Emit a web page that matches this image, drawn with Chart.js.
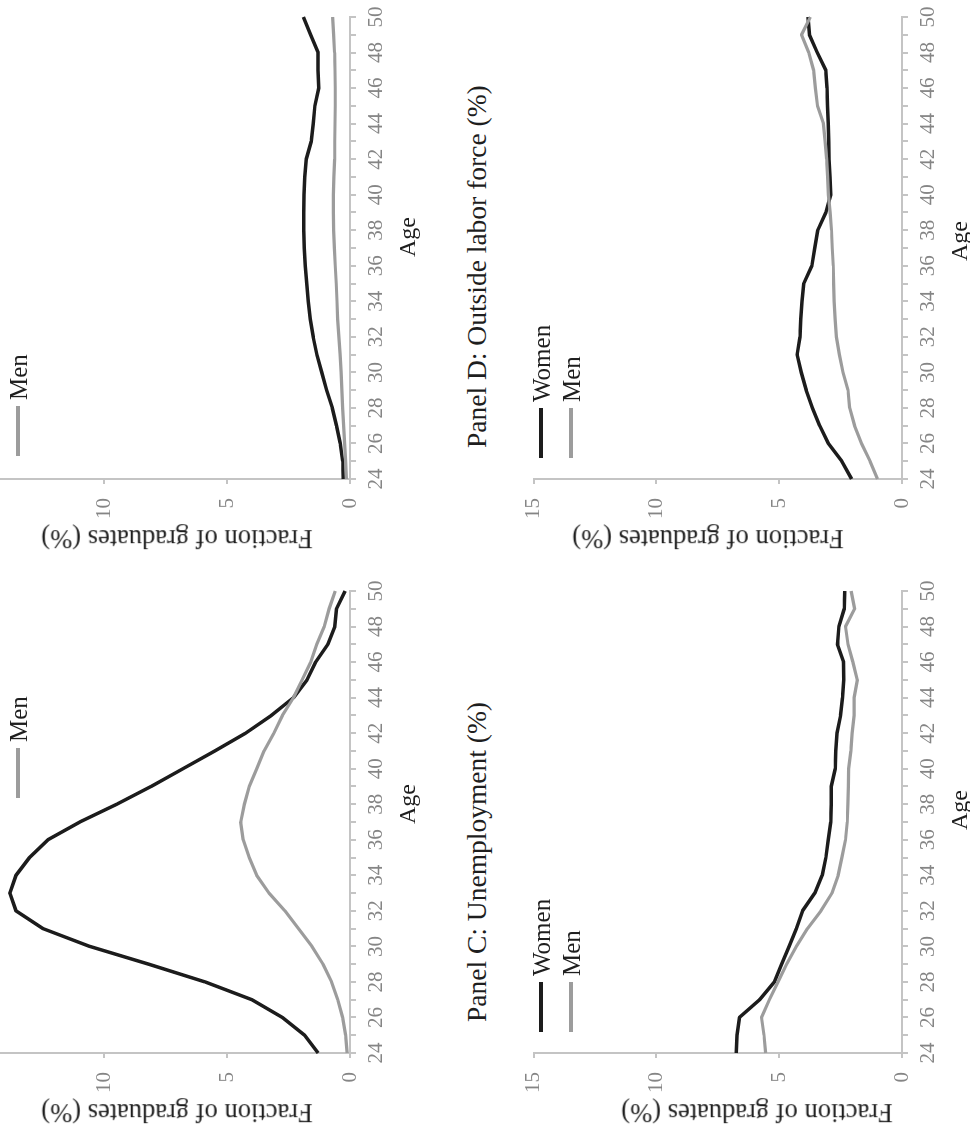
<!DOCTYPE html>
<html><head><meta charset="utf-8">
<script src="https://cdn.jsdelivr.net/npm/chart.js@4.4.0/dist/chart.umd.min.js"></script>
<style>
html,body{margin:0;padding:0;width:970px;height:1134px;overflow:hidden;background:#fff;}
#page{position:absolute;left:0;top:0;width:1134px;height:970px;transform-origin:0 0;transform:translate(0px,1134px) rotate(-90deg);font-family:'Liberation Serif','Times New Roman',serif;color:#1e1e1e;}
.cv{position:absolute;}
.txt{position:absolute;white-space:nowrap;line-height:1;}
.legline{position:absolute;height:4px;}
</style></head><body><div id="page"></div>
<script>
// ---------- data ----------
const ages = [24,25,26,27,28,29,30,31,32,33,34,35,36,37,38,39,40,41,42,43,44,45,46,47,48,49,50];
const ageTickLabels = ['24','26','28','30','32','34','36','38','40','42','44','46','48','50'];
const valueTicks = [0,5,10,15];
const seriesNames = ['Women','Men'];
const xAxisTitle = 'Age';
const yAxisTitle = 'Fraction of graduates (%)';
const panelCTitle = 'Panel C: Unemployment (%)';
const panelDTitle = 'Panel D: Outside labor force (%)';

const panelAWomen = [1.3,1.85,2.75,4.0,5.9,8.2,10.6,12.5,13.6,13.85,13.6,13.05,12.3,11.0,9.5,8.1,6.8,5.5,4.25,3.2,2.3,1.75,1.4,0.9,0.62,0.55,0.2];
const panelAMen   = [0.12,0.18,0.3,0.5,0.75,1.1,1.55,2.1,2.65,3.3,3.8,4.1,4.35,4.45,4.3,4.1,3.8,3.5,3.1,2.75,2.3,1.95,1.6,1.35,1.05,0.85,0.6];
const panelBWomen = [0.27,0.3,0.4,0.55,0.72,0.95,1.15,1.35,1.5,1.62,1.7,1.76,1.82,1.86,1.88,1.88,1.87,1.84,1.78,1.58,1.5,1.43,1.27,1.3,1.3,1.6,1.9];
const panelBMen   = [0.15,0.18,0.22,0.26,0.3,0.33,0.36,0.4,0.45,0.5,0.53,0.56,0.6,0.64,0.67,0.68,0.68,0.66,0.63,0.62,0.61,0.6,0.6,0.61,0.63,0.67,0.71];
const panelCWomen = [6.75,6.72,6.62,5.8,5.2,4.9,4.6,4.3,4.05,3.55,3.25,3.1,3.0,2.9,2.88,2.88,2.72,2.7,2.65,2.5,2.42,2.37,2.38,2.63,2.57,2.35,2.33];
const panelCMen   = [5.55,5.62,5.72,5.4,5.05,4.7,4.3,3.85,3.3,2.85,2.6,2.45,2.3,2.23,2.2,2.18,2.17,2.08,2.03,1.95,1.95,1.82,2.0,2.2,2.3,1.93,2.07];
const panelDWomen = [2.05,2.45,3.0,3.35,3.65,3.9,4.1,4.27,4.15,4.12,4.07,4.0,3.67,3.55,3.43,3.1,2.9,2.93,2.97,2.98,3.0,3.03,3.05,3.1,3.45,3.77,3.83];
const panelDMen   = [1.0,1.3,1.65,1.93,2.13,2.2,2.4,2.55,2.67,2.72,2.76,2.78,2.8,2.84,2.87,2.93,3.0,3.03,3.07,3.13,3.2,3.44,3.53,3.6,3.8,4.09,3.73];

// ---------- layout (page drawn upright, then rotated a quarter turn) ----------
const FONT = "'Liberation Serif','Times New Roman',serif";
const WOMEN_COLOR = '#1c1c1c';
const MEN_COLOR = '#9c9c9c';
const AXIS_COLOR = '#c4c4c4';
const TICK_COLOR = '#858585';

const panels = [
  {women: panelAWomen, men: panelAMen, plot:{l:81,r:543,t:-25,b:350}, legend:{x:336,y:-12}, title:null, ageX:330, yTitleY:177},
  {women: panelBWomen, men: panelBMen, plot:{l:655,r:1117,t:-25,b:350}, legend:{x:678,y:-12}, title:null, ageX:897, yTitleY:177},
  {women: panelCWomen, men: panelCMen, plot:{l:81,r:543,t:527,b:902}, legend:{x:102,y:541}, title:panelCTitle, ageX:324, yTitleY:757},
  {women: panelDWomen, men: panelDMen, plot:{l:655,r:1117,t:527,b:902}, legend:{x:676,y:541}, title:panelDTitle, ageX:893, yTitleY:708}
];

const page = document.getElementById('page');
function addText(text, x, cy, size, rot, anchorLeft) {
  const d = document.createElement('div');
  d.className = 'txt';
  d.textContent = text;
  d.style.left = x + 'px';
  d.style.top = cy + 'px';
  d.style.fontSize = size + 'px';
  d.style.transform = (anchorLeft ? 'translateY(-50%)' : 'translate(-50%,-50%)') + (rot ? ' rotate(' + rot + 'deg)' : '');
  page.appendChild(d);
  return d;
}

panels.forEach(p => {
  const padL = 10, yW = 55, padT = 20, xH = 60, padB = 10, padR = 20;
  const pw = p.plot.r - p.plot.l, ph = p.plot.b - p.plot.t;
  const w = padL + yW + pw + padR, h = padT + ph + xH + padB;
  const c = document.createElement('canvas');
  c.className = 'cv';
  c.width = w; c.height = h;
  c.style.width = w + 'px'; c.style.height = h + 'px';
  c.style.left = (p.plot.l - yW - padL) + 'px';
  c.style.top = (p.plot.t - padT) + 'px';
  page.appendChild(c);
  new Chart(c, {
    type: 'line',
    data: {
      labels: ages,
      datasets: [
        {label: seriesNames[0], data: p.women, borderColor: WOMEN_COLOR, borderWidth: 3.5, pointRadius: 0, tension: 0, fill: false, order: 1, borderJoinStyle: 'round'},
        {label: seriesNames[1], data: p.men, borderColor: MEN_COLOR, borderWidth: 3.2, pointRadius: 0, tension: 0, fill: false, order: 0, borderJoinStyle: 'round'}
      ]
    },
    options: {
      responsive: false, animation: false, devicePixelRatio: 1,
      layout: {padding: {left: padL, right: padR, top: padT, bottom: padB}},
      plugins: {legend: {display: false}, tooltip: {enabled: false}, title: {display: false}},
      scales: {
        x: {
          type: 'category', offset: false,
          grid: {display: true, drawOnChartArea: false, drawTicks: true, tickLength: 6, color: AXIS_COLOR, lineWidth: 2},
          border: {display: true, color: AXIS_COLOR, width: 2},
          ticks: {autoSkip: false, maxRotation: 0, minRotation: 0, padding: 8, color: TICK_COLOR,
                  font: {family: FONT, size: 21},
                  callback: (v, i) => ageTickLabels.includes(String(ages[i])) ? String(ages[i]) : ''},
          afterFit: s => { s.height = xH; }
        },
        y: {
          min: valueTicks[0], max: valueTicks[valueTicks.length - 1],
          afterBuildTicks: s => { s.ticks = valueTicks.map(v => ({value: v})); },
          grid: {display: true, drawOnChartArea: false, drawTicks: true, tickLength: 5, color: AXIS_COLOR, lineWidth: 2},
          border: {display: true, color: AXIS_COLOR, width: 2},
          ticks: {padding: 14, color: TICK_COLOR, font: {family: FONT, size: 21}},
          afterFit: s => { s.width = yW; }
        }
      }
    }
  });
  // axis titles
  addText(xAxisTitle, p.ageX, p.plot.b + 57, 24, 0);
  addText(yAxisTitle, p.plot.l - 60, p.yTitleY, 26.5, -90);
  // panel title (left-aligned a little inside the plot start)
  if (p.title) addText(p.title, p.plot.l + 31, p.plot.t - 50.5, 27.5, 0, true);
  // legend
  [p.women, p.men].forEach((_, k) => {
    const y = p.legend.y + k * 30;
    const ln = document.createElement('div');
    ln.className = 'legline';
    ln.style.left = p.legend.x + 'px';
    ln.style.top = (y - 2) + 'px';
    ln.style.width = '50px';
    ln.style.background = k === 0 ? WOMEN_COLOR : MEN_COLOR;
    page.appendChild(ln);
    const t = document.createElement('div');
    t.className = 'txt';
    t.textContent = seriesNames[k];
    t.style.left = (p.legend.x + 56) + 'px';
    t.style.top = y + 'px';
    t.style.fontSize = '25px';
    t.style.transform = 'translateY(-50%)';
    page.appendChild(t);
  });
});
</script>
</body></html>
